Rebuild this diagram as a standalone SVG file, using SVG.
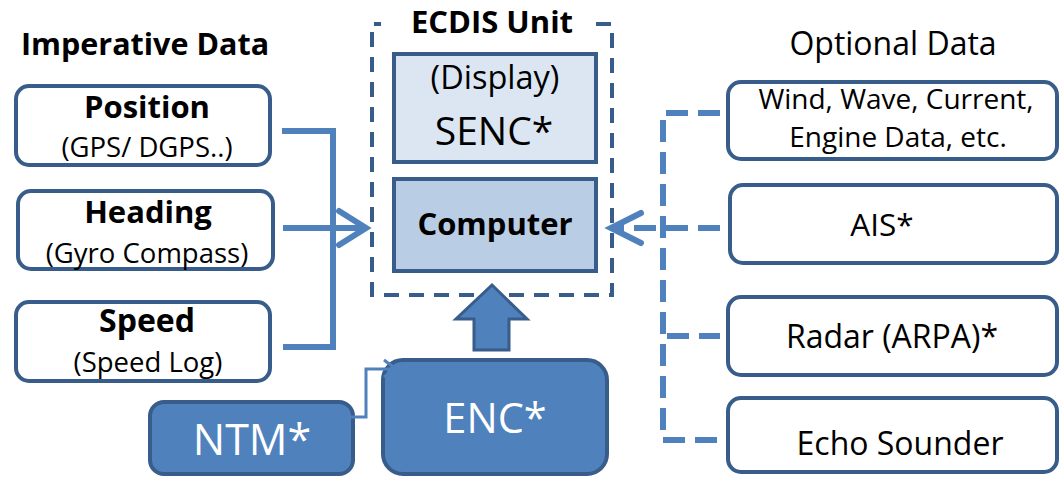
<svg xmlns="http://www.w3.org/2000/svg" width="1063" height="477" viewBox="0 0 1063 477">
  <style>
    text { font-family: "Open Sans", "Noto Sans", "Liberation Sans", sans-serif; fill: #000; text-anchor: middle; }
    .box { fill: #fff; stroke: #385D8A; stroke-width: 4; }
    .title { font-weight: bold; font-size: 31px; }
    .sub { font-size: 27.5px; }
    .opt { font-size: 28px; }
    .big { font-size: 32px; }
    .solid { fill: none; stroke: #4F81BD; stroke-width: 6; }
    .dash { fill: none; stroke: #4F81BD; stroke-width: 6; stroke-dasharray: 22 10; }
    .chev { fill: none; stroke: #4F81BD; stroke-width: 6; stroke-linecap: round; stroke-linejoin: miter; }
    .dark { fill: #4F81BD; stroke: #385D8A; stroke-width: 4; }
    .white { fill: #fff; }
  </style>

  <!-- section headings -->
  <text x="145" y="55" style="font-weight:bold;font-size:30.5px">Imperative Data</text>
  <text x="893" y="55" style="font-size:32px">Optional Data</text>

  <!-- imperative data sources -->
  <g id="position">
    <rect class="box" x="16" y="86" width="254" height="79" rx="13"/>
    <text class="title" x="147" y="118">Position</text>
    <text class="sub" x="147" y="157">(GPS/ DGPS..)</text>
  </g>
  <g id="heading">
    <rect class="box" x="18" y="191" width="255" height="78" rx="13"/>
    <text class="title" x="148" y="223">Heading</text>
    <text class="sub" x="147" y="263">(Gyro Compass)</text>
  </g>
  <g id="speed">
    <rect class="box" x="16" y="302" width="254" height="79" rx="13"/>
    <text class="title" x="147" y="332" style="font-size:32px">Speed</text>
    <text class="sub" x="148" y="372">(Speed Log)</text>
  </g>

  <!-- ECDIS unit -->
  <g id="ecdis-unit">
    <path d="M596 24 H612 V295 H372 V24 H381" fill="none" stroke="#385D8A" stroke-width="4" stroke-dasharray="15 10"/>
    <text x="492" y="33" style="font-weight:bold;font-size:31px">ECDIS Unit</text>
  </g>
  <g id="senc">
    <rect x="394" y="54" width="202" height="108" fill="#DCE6F2" stroke="#385D8A" stroke-width="4"/>
    <text x="495" y="89" style="font-size:32.5px">(Display)</text>
    <text x="494" y="145" style="font-size:39px">SENC*</text>
  </g>
  <g id="computer">
    <rect x="394" y="179" width="202" height="92" fill="#B9CDE5" stroke="#385D8A" stroke-width="4"/>
    <text x="495" y="235" style="font-weight:bold;font-size:31px">Computer</text>
  </g>

  <!-- chart data -->
  <g id="enc">
    <rect class="dark" x="383" y="360" width="224" height="114" rx="20"/>
    <text class="white" x="495" y="433" style="font-size:41.5px">ENC*</text>
  </g>
  <g id="ntm">
    <rect class="dark" x="150" y="402" width="203" height="72" rx="14"/>
    <text class="white" x="252" y="455" style="font-size:43px">NTM*</text>
  </g>

  <!-- optional data sources -->
  <g id="wind">
    <rect class="box" x="728" y="82" width="329" height="77" rx="13"/>
    <text class="opt" x="896" y="109">Wind, Wave, Current,</text>
    <text class="opt" x="898" y="147">Engine Data, etc.</text>
  </g>
  <g id="ais">
    <rect class="box" x="730" y="185" width="327" height="78" rx="13"/>
    <text class="big" x="882" y="236" style="font-size:31.5px">AIS*</text>
  </g>
  <g id="radar">
    <rect class="box" x="728" y="297" width="329" height="78" rx="13"/>
    <text class="big" x="892" y="348">Radar (ARPA)*</text>
  </g>
  <g id="echo">
    <rect class="box" x="728" y="398" width="329" height="74" rx="13"/>
    <text class="big" x="900" y="455">Echo Sounder</text>
  </g>

  <!-- connectors, drawn over the boxes -->
  <g id="connectors">
    <!-- imperative inputs merge into the ECDIS unit -->
    <path class="solid" d="M282 131 H333 V347 H283"/>
    <path class="solid" d="M283 228 H364"/>
    <path class="chev" d="M339 211 L366 228 L339 245"/>
    <!-- optional inputs, dashed bus -->
    <path class="dash" d="M720 113 H663 V440 H720"/>
    <path class="dash" d="M720 228 H615"/>
    <path class="dash" d="M663 336 H720" style="stroke-dashoffset:-4"/>
    <path class="chev" d="M641 213 L611 228 L641 243"/>
    <!-- NTM feeds ENC -->
    <path d="M328 417 H366 V369 H396" fill="none" stroke="#4F81BD" stroke-width="3"/>
    <path d="M384 360 L396 369 L384 377" fill="none" stroke="#4F81BD" stroke-width="3"/>
    <!-- ENC up into the unit -->
    <path d="M492 285 L527 319 L509 319 L509 350 L474 350 L474 319 L456 319 Z" fill="#4F81BD" stroke="#385D8A" stroke-width="3" stroke-linejoin="miter"/>
  </g>
</svg>
